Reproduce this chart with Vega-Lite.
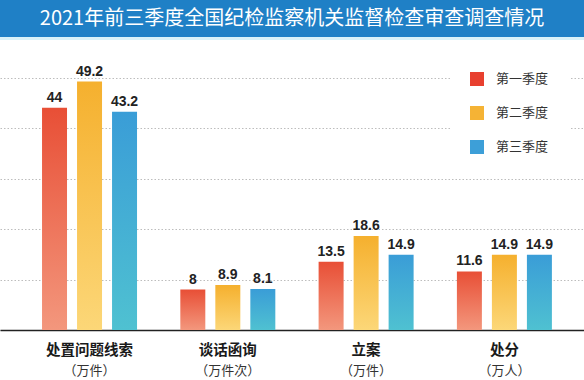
{
  "$schema": "https://vega.github.io/schema/vega-lite/v6.json",
  "width": 584,
  "height": 330,
  "padding": 0,
  "background": "white",
  "config": {
    "font": "Noto Sans CJK SC",
    "view": {"stroke": null},
    "axisY": {"grid": true, "gridDash": [1.5, 2], "gridColor": "#bdbdbd", "gridWidth": 1, "labels": false, "ticks": false, "domain": false, "tickCount": 7}
  },
  "datasets": {
    "main": [
      {"指标": "处置问题线索", "单位": "（万件）", "季度": "第一季度", "值": 44},
      {"指标": "处置问题线索", "单位": "（万件）", "季度": "第二季度", "值": 49.2},
      {"指标": "处置问题线索", "单位": "（万件）", "季度": "第三季度", "值": 43.2},
      {"指标": "谈话函询", "单位": "（万件次）", "季度": "第一季度", "值": 8},
      {"指标": "谈话函询", "单位": "（万件次）", "季度": "第二季度", "值": 8.9},
      {"指标": "谈话函询", "单位": "（万件次）", "季度": "第三季度", "值": 8.1},
      {"指标": "立案", "单位": "（万件）", "季度": "第一季度", "值": 13.5},
      {"指标": "立案", "单位": "（万件）", "季度": "第二季度", "值": 18.6},
      {"指标": "立案", "单位": "（万件）", "季度": "第三季度", "值": 14.9},
      {"指标": "处分", "单位": "（万人）", "季度": "第一季度", "值": 11.6},
      {"指标": "处分", "单位": "（万人）", "季度": "第二季度", "值": 14.9},
      {"指标": "处分", "单位": "（万人）", "季度": "第三季度", "值": 14.9}
    ]
  },
  "data": {"name": "main"},
  "layer": [
    {
      "mark": {"type": "rect", "color": "#1f80c6"},
      "encoding": {
        "y": {"datum": 58.02, "scale": {"domain": [0, 65.35], "nice": false}, "title": null},
        "y2": {"datum": 65.35}
      }
    },
    {
      "mark": {"type": "rect", "color": "#d9f2f9"},
      "encoding": {
        "y": {"datum": 57.45, "scale": {"domain": [0, 65.35], "nice": false}, "title": null},
        "y2": {"datum": 58.02}
      }
    },
    {
      "data": {"values": [{"标题": "2021年前三季度全国纪检监察机关监督检查审查调查情况"}]},
      "mark": {"type": "text", "color": "white", "fontSize": 20, "font": "Noto Sans CJK SC", "fontWeight": "normal", "align": "center", "baseline": "middle"},
      "encoding": {
        "y": {"datum": 61.5, "scale": {"domain": [0, 65.35], "nice": false}, "title": null},
        "text": {"field": "标题"}
      }
    },
    {
      "mark": {"type": "bar"},
      "encoding": {
        "x": {"field": "指标", "type": "nominal", "sort": ["处置问题线索", "谈话函询", "立案", "处分"],
              "scale": {"paddingInner": 0.313, "paddingOuter": 0.268, "align": 0.567},
              "axis": {"orient": "bottom", "title": null, "labelAngle": 0, "labelFontSize": 14.5, "labelFontWeight": "bold", "labelColor": "#1a1a1a", "labelPadding": 13, "ticks": false, "domain": true, "domainColor": "#222222", "domainWidth": 1.5, "labelBaseline": "top"}},
        "xOffset": {"field": "季度", "type": "nominal", "sort": ["第一季度", "第二季度", "第三季度"], "scale": {"paddingInner": 0.286, "paddingOuter": 0}},
        "y": {"field": "值", "type": "quantitative", "scale": {"domain": [0, 65.35], "nice": false}, "title": null},
        "fill": {
          "condition": [
            {"test": "datum['季度'] === '第一季度'", "value": {"gradient": "linear", "x1": 0, "y1": 0, "x2": 0, "y2": 1, "stops": [{"offset": 0, "color": "#e84f36"}, {"offset": 1, "color": "#f3977d"}]}},
            {"test": "datum['季度'] === '第二季度'", "value": {"gradient": "linear", "x1": 0, "y1": 0, "x2": 0, "y2": 1, "stops": [{"offset": 0, "color": "#f5b02e"}, {"offset": 1, "color": "#fcd778"}]}}
          ],
          "value": {"gradient": "linear", "x1": 0, "y1": 0, "x2": 0, "y2": 1, "stops": [{"offset": 0, "color": "#3a9dd7"}, {"offset": 1, "color": "#4fc1d1"}]}
        }
      }
    },
    {
      "mark": {"type": "text", "fontSize": 14, "fontWeight": "bold", "color": "#222222", "baseline": "bottom", "dy": -3, "font": "Liberation Sans"},
      "encoding": {
        "x": {"field": "指标", "type": "nominal", "sort": ["处置问题线索", "谈话函询", "立案", "处分"],
              "scale": {"paddingInner": 0.313, "paddingOuter": 0.268, "align": 0.567},
              "axis": {"orient": "bottom", "title": null, "labelAngle": 0, "labelExpr": "{'处置问题线索':'（万件）','谈话函询':'（万件次）','立案':'（万件）','处分':'（万人）'}[datum.value]", "labelFontSize": 13, "labelFontWeight": "normal", "labelColor": "#333333", "labelPadding": 34, "ticks": false, "domain": false, "labelBaseline": "top"}},
        "xOffset": {"field": "季度", "type": "nominal", "sort": ["第一季度", "第二季度", "第三季度"], "scale": {"paddingInner": 0.286, "paddingOuter": 0}},
        "y": {"field": "值", "type": "quantitative", "scale": {"domain": [0, 65.35], "nice": false}, "title": null},
        "text": {"field": "值", "type": "quantitative"}
      }
    },
    {
      "mark": {"type": "point", "shape": "square", "filled": true, "opacity": 0},
      "encoding": {
        "x": {"field": "指标", "type": "nominal", "sort": ["处置问题线索", "谈话函询", "立案", "处分"], "axis": null},
        "y": {"field": "值", "type": "quantitative", "scale": {"domain": [0, 65.35], "nice": false}, "title": null},
        "color": {"field": "季度", "type": "nominal", "sort": ["第一季度", "第二季度", "第三季度"],
                  "scale": {"domain": ["第一季度", "第二季度", "第三季度"], "range": ["#e8402f", "#f5b335", "#3d9fd8"]},
                  "legend": {"title": null, "orient": "none", "legendX": 450, "legendY": 52, "padding": 20, "fillColor": "white", "symbolType": "square", "symbolSize": 196, "symbolOpacity": 1, "symbolStrokeWidth": 0, "labelFontSize": 13, "labelColor": "#333333", "labelOffset": 12, "rowPadding": 20, "labelFont": "Noto Sans CJK SC"}}
      }
    }
  ],
  "resolve": {"axis": {"x": "independent"}}
}
